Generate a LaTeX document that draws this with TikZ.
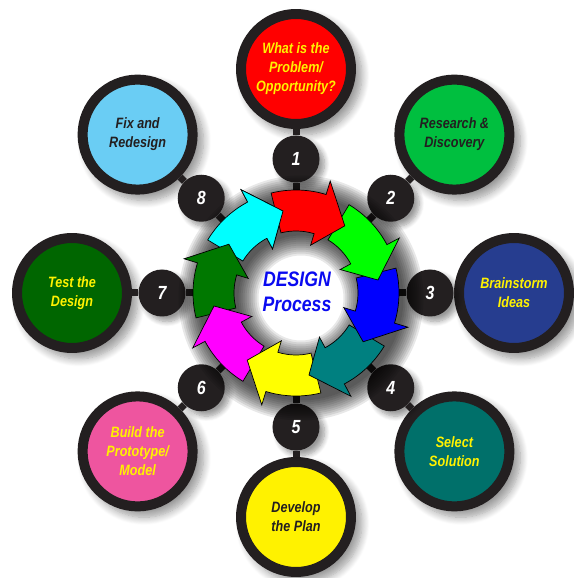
\documentclass[tikz,border=0pt]{standalone}
\usepackage{fontspec}
\setmainfont{Liberation Sans}[FakeStretch=0.84]
\usetikzlibrary{shadows.blur,backgrounds}

\definecolor{rim}{HTML}{231F20}
\definecolor{txtyellow}{HTML}{FFF200}
\definecolor{titleblue}{HTML}{0A0AF0}
\definecolor{fillred}{HTML}{FF0000}
\definecolor{fillgreen}{HTML}{00BF3F}
\definecolor{fillblue}{HTML}{263D8F}
\definecolor{fillteal}{HTML}{00706A}
\definecolor{fillyellow}{HTML}{FFF200}
\definecolor{fillpink}{HTML}{EE559F}
\definecolor{filldkgreen}{HTML}{006600}
\definecolor{fillsky}{HTML}{6ACDF4}
\definecolor{arrred}{HTML}{FF0000}
\definecolor{arrgreen}{HTML}{00FF00}
\definecolor{arrblue}{HTML}{0000FF}
\definecolor{arrteal}{HTML}{008080}
\definecolor{arryellow}{HTML}{FFFF00}
\definecolor{arrmagenta}{HTML}{FF00FF}
\definecolor{arrdkgreen}{HTML}{007800}
\definecolor{arrcyan}{HTML}{00FFFF}

\begin{document}
\begin{tikzpicture}[line join=round,
    stage node/.style={circle,draw=rim,line width=10pt,minimum size=110pt,inner sep=0pt,
      align=center,font=\fontsize{15}{19}\selectfont\bfseries\itshape,
      blur shadow={shadow xshift=6pt,shadow yshift=-6pt,shadow blur radius=7pt,shadow blur steps=10,shadow scale=1.08}},
    num node/.style={circle,fill=rim,minimum size=47pt,inner sep=0pt,text=white,
      font=\fontsize{19}{19}\selectfont\bfseries\itshape,
      blur shadow={shadow xshift=5pt,shadow yshift=-5pt,shadow blur radius=5pt,shadow blur steps=8}},
    link/.style={draw=rim,line width=7pt},
    seg/.style={draw=black,line width=0.7pt,line join=miter}]

  \useasboundingbox (-296pt,-285pt) rectangle (277pt,293pt);

  \node[circle,minimum size=206pt,inner sep=0pt] (ring) at (0,0) {};

  % outer stages
  \node[stage node,fill=fillred,text=txtyellow] (stage1) at (90:224pt) {What is the\\Problem/\\Opportunity?};
  \node[stage node,fill=fillgreen,text=rim] (stage2) at (45:224pt) {Research \&\\Discovery};
  \node[stage node,fill=fillblue,text=txtyellow] (stage3) at (0:218pt) {Brainstorm\\Ideas};
  \node[stage node,fill=fillteal,text=txtyellow] (stage4) at (-45:224pt) {Select\\Solution};
  \node[stage node,fill=fillyellow,text=rim] (stage5) at (-90:224pt) {Develop\\the Plan};
  \node[stage node,fill=fillpink,text=txtyellow] (stage6) at (-135:224pt) {Build the\\Prototype/\\Model};
  \node[stage node,fill=filldkgreen,text=txtyellow] (stage7) at (180:224pt) {Test the\\Design};
  \node[stage node,fill=fillsky,text=rim] (stage8) at (135:224pt) {Fix and\\Redesign};

  % numbers
  \node[num node] (num1) at (90:134pt) {1};
  \node[num node] (num2) at (45:134pt) {2};
  \node[num node] (num3) at (0:134pt) {3};
  \node[num node] (num4) at (-45:134pt) {4};
  \node[num node] (num5) at (-90:134pt) {5};
  \node[num node] (num6) at (-135:134pt) {6};
  \node[num node] (num7) at (180:134pt) {7};
  \node[num node] (num8) at (135:134pt) {8};

  \draw[link] (ring) -- (num1) -- (stage1);
  \draw[link] (ring) -- (num2) -- (stage2);
  \draw[link] (ring) -- (num3) -- (stage3);
  \draw[link] (ring) -- (num4) -- (stage4);
  \draw[link] (ring) -- (num5) -- (stage5);
  \draw[link] (ring) -- (num6) -- (stage6);
  \draw[link] (ring) -- (num7) -- (stage7);
  \draw[link] (ring) -- (num8) -- (stage8);

  % soft shadow under the ring
  \foreach \w in {40,44,...,80}
    \draw[black,opacity=0.09,line width=\w pt] (5pt,-5pt) circle (82.5pt);

  % ring of arrows
  \foreach \tip/\col [evaluate=\tip as \tl using \tip+50, evaluate=\tip as \hb using \tip+19]
      in {99/arrcyan,144/arrdkgreen,-171/arrmagenta,-126/arryellow,-81/arrteal,-36/arrblue,9/arrgreen,54/arrred}
    \filldraw[seg,fill=\col] (\tl:103pt) arc[start angle=\tl,end angle=\hb,radius=103pt]
      -- (\hb:117pt) -- (\tip:83pt) -- (\hb:50pt) -- (\hb:62pt)
      arc[start angle=\hb,end angle=\tl,radius=62pt] -- cycle;
  % cyan head goes over the red tail
  \fill[arrcyan] (118:117pt) -- (99:83pt) -- (118:50pt) -- cycle;
  \draw[seg] (118:103pt) -- (118:117pt) -- (99:83pt) -- (118:50pt) -- (118:62pt);

  \node[font=\fontsize{21}{25}\selectfont\bfseries\itshape,text=titleblue,align=center] (title) at (1pt,1pt) {DESIGN\\Process};

\end{tikzpicture}
\end{document}
